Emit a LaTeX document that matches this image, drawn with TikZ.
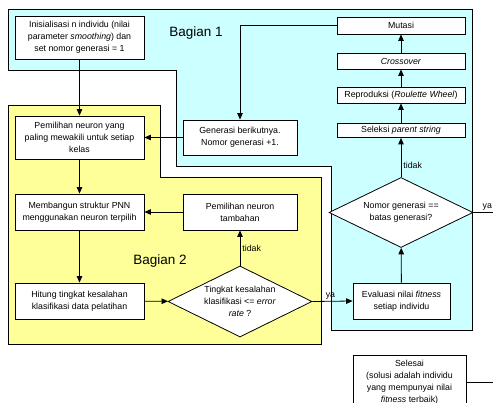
\documentclass[tikz,border=0pt]{standalone}
\usepackage{fontspec}
\setmainfont{Liberation Sans}
\usetikzlibrary{arrows.meta,shapes.geometric}
\definecolor{partone}{HTML}{CCFFFF}
\definecolor{parttwo}{HTML}{FFFF99}
\begin{document}
\begin{tikzpicture}[x=1pt,y=-1pt,
  every node/.style={font=\fontsize{8.8}{12}\selectfont},
  stepbox/.style={draw,fill=white,line width=0.8pt,align=center,inner sep=0pt},
  decision/.style={draw,fill=white,diamond,aspect=2,line width=0.8pt,align=center,
    inner sep=-4pt,minimum width=144pt,minimum height=70pt},
  flow/.style={line width=0.8pt,-{Triangle[length=6.5pt,width=5.5pt]}},
  link/.style={line width=0.8pt},
  region/.style={draw,line width=0.8pt},
  partlabel/.style={font=\fontsize{13.5}{16}\selectfont}]
\useasboundingbox (0,0) rectangle (493,403);
\fill[white] (0,0) rectangle (493,403);

% the two parts of the procedure
\path[region,fill=partone] (8,9) -- (472,9) -- (472,330) -- (331,330) -- (331,166)
  -- (176,166) -- (176,70) -- (8,70) -- cycle;
\path[region,fill=parttwo] (8,105) -- (160,105) -- (160,177) -- (321,177)
  -- (321,344) -- (8,344) -- cycle;
\node[partlabel] (partA) at (196,33) {Bagian 1};
\node[partlabel] (partB) at (160,261) {Bagian 2};

% genetic algorithm steps
\node[stepbox,minimum width=129pt,minimum height=43pt] (init) at (79.5,37.5)
  {Inisialisasi n individu (nilai\\parameter \textit{smoothing}) dan\\set nomor generasi = 1};
\node[stepbox,minimum width=128pt,minimum height=17pt] (mut) at (401,25.5) {Mutasi};
\node[stepbox,minimum width=128pt,minimum height=16pt] (cross) at (401,61) {\textit{Crossover}};
\node[stepbox,minimum width=128pt,minimum height=16pt] (repro) at (401,95)
  {Reproduksi (\textit{Roulette Wheel})};
\node[stepbox,minimum width=128pt,minimum height=14pt] (sel) at (401,130.5)
  {Seleksi \textit{parent string}};
\node[decision] (limit) at (401,212.5) {Nomor generasi ==\\batas generasi?};
\node[stepbox,minimum width=97pt,minimum height=36pt] (eval) at (401.5,301)
  {Evaluasi nilai \textit{fitness}\\setiap individu};
\node[stepbox,minimum width=113pt,minimum height=54pt] (fin) at (409.5,382)
  {Selesai\\(solusi adalah individu\\yang mempunyai nilai\\\textit{fitness} terbaik)};
\node[stepbox,minimum width=114pt,minimum height=35pt] (gen) at (240,137.5)
  {Generasi berikutnya.\\Nomor generasi +1.};

% PNN steps
\node[stepbox,minimum width=129pt,minimum height=43pt] (pick) at (79.5,137.5)
  {Pemilihan neuron yang\\paling mewakili untuk setiap\\kelas};
\node[stepbox,minimum width=129pt,minimum height=36pt] (build) at (79.5,212)
  {Membangun struktur PNN\\menggunakan neuron terpilih};
\node[stepbox,minimum width=114pt,minimum height=36pt] (extra) at (240,212)
  {Pemilihan neuron\\tambahan};
\node[stepbox,minimum width=129pt,minimum height=36pt] (count) at (79.5,301)
  {Hitung tingkat kesalahan\\klasifikasi data pelatihan};
\node[decision,minimum height=71pt] (errchk) at (240,301.5)
  {Tingkat kesalahan\\klasifikasi <= \textit{error}\\\textit{rate} ?};

% connectors
\draw[flow] (init) -- (pick);
\draw[flow] (pick) -- (build);
\draw[flow] (build) -- (count);
\draw[flow] (count) -- (errchk);
\draw[flow] (errchk) -- node[right,inner sep=2pt,pos=0.5] {tidak} (extra);
\draw[flow] (extra) -- (build);
\draw[flow] (gen) -- (pick);
\draw[flow] (mut) -| (gen);
\draw[flow] (errchk.east) -- node[above,inner sep=1.5pt,pos=0.45] {ya} (eval.west);
\draw[flow] (eval) -- (limit);
\draw[flow] (limit) -- node[right,inner sep=2pt,pos=0.3] {tidak} (sel);
\draw[flow] (sel) -- (repro);
\draw[flow] (repro) -- (cross);
\draw[flow] (cross) -- (mut);
\coordinate (yesturn) at (505,0);
\draw[link] (limit.east) -- node[above,inner sep=1.5pt,pos=0.44] {ya} (limit.east -| yesturn)
  |- (fin.east);
\end{tikzpicture}
\end{document}
